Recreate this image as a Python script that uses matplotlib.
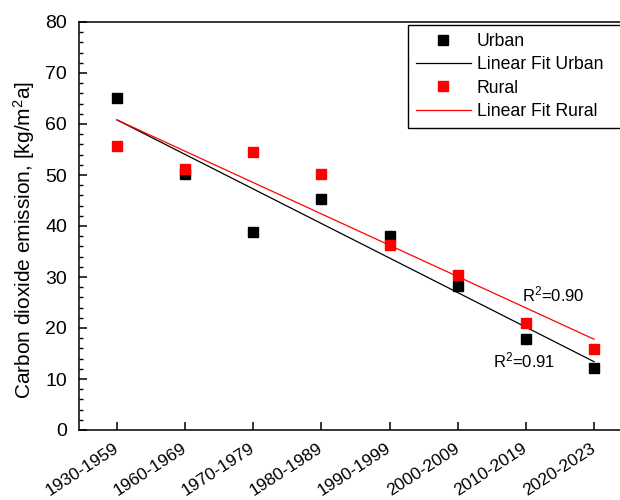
import numpy as np
import matplotlib
matplotlib.use('Agg')
import matplotlib.pyplot as plt
from matplotlib.ticker import MultipleLocator

#
# values
#
periods = ['1930-1959', '1960-1969', '1970-1979', '1980-1989',
           '1990-1999', '2000-2009', '2010-2019', '2020-2023']
urban = [65.1, 50.1, 38.9, 45.2, 38.0, 28.2, 17.8, 12.1]
rural = [55.6, 51.2, 54.5, 50.2, 36.3, 30.3, 20.9, 15.9]
#
# the linear fits as drawn: value at first and at last period
#
fit_urban = [60.8, 13.4]
fit_rural = [60.8, 17.8]
r2_urban = 0.91
r2_rural = 0.90

plt.rcParams['font.family'] = ['Liberation Sans', 'DejaVu Sans']
plt.rcParams['mathtext.fontset'] = 'custom'
plt.rcParams['mathtext.rm'] = 'Liberation Sans'
plt.rcParams['mathtext.it'] = 'Liberation Sans:italic'

xpos = np.arange(1, len(periods) + 1)
xfit = [xpos[0], xpos[-1]]

fig = plt.figure(figsize=(6.2, 5.0), dpi=100)
ax = fig.add_axes([0.1274, 0.14, 0.892, 0.816])

ax.plot(xpos, urban, 's', color='black', ms=7, mec='black', label='Urban', zorder=3)
ax.plot(xfit, fit_urban, '-', color='black', lw=0.9, label='Linear Fit Urban', zorder=2)
ax.plot(xpos, rural, 's', color='red', ms=7, mec='red', label='Rural', zorder=3)
ax.plot(xfit, fit_rural, '-', color='red', lw=0.9, label='Linear Fit Rural', zorder=2)

ax.text(6.94, 26.5, r'R$^{2}$=%.2f' % r2_rural, fontsize=12, ha='left', va='center')
ax.text(6.52, 13.7, r'R$^{2}$=%.2f' % r2_urban, fontsize=12, ha='left', va='center')

ax.set_xlim(0.442, 8.558)
ax.set_ylim(0, 80)
ax.set_xticks(xpos)
ax.set_xticklabels(periods, rotation=33, ha='right', va='center',
                   rotation_mode='anchor', fontsize=12.5)
ax.yaxis.set_major_locator(MultipleLocator(10))
ax.yaxis.set_minor_locator(MultipleLocator(2))
ax.tick_params(axis='y', which='major', direction='in', length=6, width=1.1,
               labelsize=14, pad=8.5, right=False)
ax.tick_params(axis='y', which='minor', direction='in', length=3, width=1.0, right=False)
ax.tick_params(axis='x', which='major', direction='in', length=6, width=1.1,
               pad=12, top=False)
for s in ax.spines.values():
    s.set_linewidth(1.1)

ax.set_ylabel('Carbon dioxide emission, [kg/m$^{2}$a]', fontsize=15)
ax.yaxis.set_label_coords(-0.076, 0.466)

leg = ax.legend(loc='upper left', bbox_to_anchor=(0.595, 0.75, 0.42, 0.2426),
                mode='expand', borderaxespad=0, fontsize=12.7, frameon=True,
                fancybox=False, edgecolor='black', framealpha=1,
                borderpad=0.45, labelspacing=0.36, handlelength=3.1,
                handletextpad=0.35, numpoints=1)
leg.get_frame().set_linewidth(1.0)

fig.savefig('out.png', dpi=100)
